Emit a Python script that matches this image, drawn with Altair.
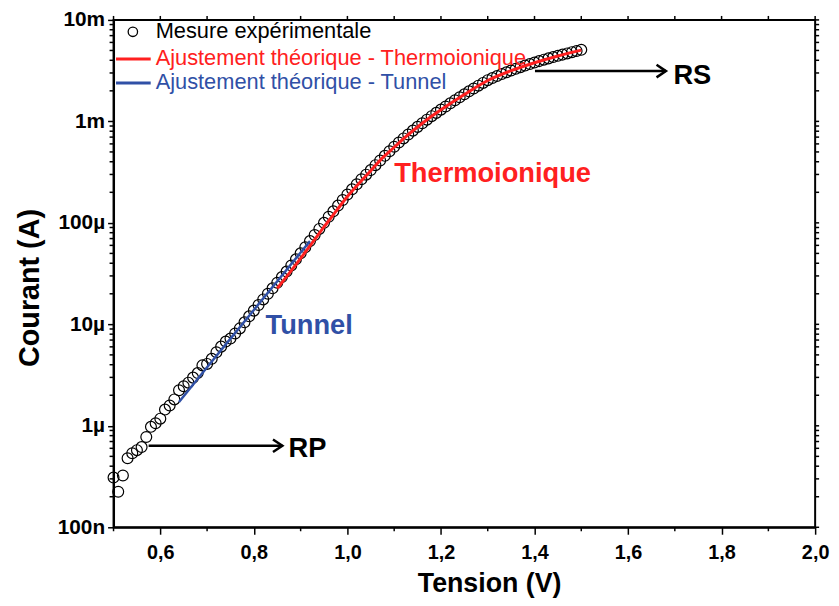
import altair as alt
import pandas as pd

# ---------------- data ----------------
tension = [0.50, 0.51, 0.52, 0.53, 0.54, 0.55, 0.56, 0.57, 0.58, 0.59,
           0.60, 0.61, 0.62, 0.63, 0.64, 0.65, 0.66, 0.67, 0.68, 0.69,
           0.70, 0.71, 0.72, 0.73, 0.74, 0.75, 0.76, 0.77, 0.78, 0.79,
           0.80, 0.81, 0.82, 0.83, 0.84, 0.85, 0.86, 0.87, 0.88, 0.89,
           0.90, 0.91, 0.92, 0.93, 0.94, 0.95, 0.96, 0.97, 0.98, 0.99,
           1.00, 1.01, 1.02, 1.03, 1.04, 1.05, 1.06, 1.07, 1.08, 1.09,
           1.10, 1.11, 1.12, 1.13, 1.14, 1.15, 1.16, 1.17, 1.18, 1.19,
           1.20, 1.21, 1.22, 1.23, 1.24, 1.25, 1.26, 1.27, 1.28, 1.29,
           1.30, 1.31, 1.32, 1.33, 1.34, 1.35, 1.36, 1.37, 1.38, 1.39,
           1.40, 1.41, 1.42, 1.43, 1.44, 1.45, 1.46, 1.47, 1.48, 1.49,
           1.50]
courant = [3.09e-7, 2.24e-7, 3.24e-7, 4.79e-7, 5.37e-7, 5.75e-7, 6.17e-7, 7.76e-7, 9.77e-7, 1.06e-6,
           1.175e-6, 1.445e-6, 1.585e-6, 1.82e-6, 2.24e-6, 2.455e-6, 2.66e-6, 2.985e-6, 3.31e-6, 3.94e-6,
           4.07e-6, 4.57e-6, 5.31e-6, 6.03e-6, 6.76e-6, 7.24e-6, 8.13e-6, 9.12e-6, 1.047e-5, 1.20e-5,
           1.365e-5, 1.55e-5, 1.76e-5, 2.00e-5, 2.265e-5, 2.57e-5, 2.92e-5, 3.31e-5, 3.80e-5, 4.37e-5,
           5.01e-5, 5.75e-5, 6.61e-5, 7.59e-5, 8.71e-5, 1.00e-4, 1.148e-4, 1.30e-4, 1.48e-4, 1.68e-4,
           1.905e-4, 2.14e-4, 2.40e-4, 2.69e-4, 2.985e-4, 3.31e-4, 3.70e-4, 4.12e-4, 4.58e-4, 5.08e-4,
           5.62e-4, 6.19e-4, 6.79e-4, 7.43e-4, 8.11e-4, 8.83e-4, 9.59e-4, 1.040e-3, 1.125e-3, 1.213e-3,
           1.306e-3, 1.403e-3, 1.507e-3, 1.614e-3, 1.730e-3, 1.849e-3, 1.977e-3, 2.109e-3, 2.249e-3, 2.393e-3,
           2.547e-3, 2.673e-3, 2.799e-3, 2.924e-3, 3.048e-3, 3.170e-3, 3.296e-3, 3.420e-3, 3.548e-3, 3.673e-3,
           3.802e-3, 3.926e-3, 4.055e-3, 4.178e-3, 4.305e-3, 4.426e-3, 4.550e-3, 4.677e-3, 4.808e-3, 4.943e-3,
           5.07e-3]

thermo_v = [0.85, 0.875, 0.90, 0.925, 0.95, 0.975, 1.00, 1.025, 1.05, 1.075, 1.10, 1.125,
            1.15, 1.175, 1.20, 1.25, 1.30, 1.35, 1.40, 1.45, 1.50]
thermo_i = [2.26e-5, 3.16e-5, 4.47e-5, 6.38e-5, 9.12e-5, 1.288e-4, 1.82e-4, 2.455e-4, 3.27e-4,
            4.37e-4, 5.56e-4, 7.08e-4, 8.81e-4, 1.081e-3, 1.30e-3, 1.84e-3, 2.53e-3, 3.16e-3,
            3.78e-3, 4.41e-3, 5.04e-3]

tunnel_v = [0.64, 0.70, 0.75, 0.80, 0.85, 0.90, 0.92]
tunnel_i = [1.72e-6, 3.77e-6, 7.23e-6, 1.387e-5, 2.66e-5, 5.10e-5, 6.61e-5]

# annotations (text, V, I, colour)
annot_text = ["Thermoionique", "Tunnel", "RP", "RS"]
annot_v = [1.100, 0.825, 0.874, 1.697]
annot_i = [3.02e-4, 9.66e-6, 5.94e-7, 2.79e-3]
annot_col = ["#FF2020", "#3050A6", "black", "black"]

# arrows (start V, end V, I)
arrow_v1 = [0.575, 1.401]
arrow_v2 = [0.861, 1.681]
arrow_i = [6.37e-7, 3.13e-3]

legend_labels = ["Mesure expérimentale",
                 "Ajustement théorique - Thermoionique",
                 "Ajustement théorique - Tunnel"]

x_major = [0.6, 0.8, 1.0, 1.2, 1.4, 1.6, 1.8, 2.0]
x_minor = [0.5, 0.7, 0.9, 1.1, 1.3, 1.5, 1.7, 1.9]
y_major = [1e-7, 1e-6, 1e-5, 1e-4, 1e-3, 1e-2]
y_minor = [m * 10.0 ** e for e in range(-7, -2) for m in range(2, 10)]

RED = "#FF2020"
BLUE = "#3050A6"
FONT = "Liberation Sans"
W, H = 708, 512

df = pd.DataFrame({"V": tension, "I": courant})
df_th = pd.DataFrame({"V": thermo_v, "I": thermo_i})
df_tu = pd.DataFrame({"V": tunnel_v, "I": tunnel_i})
df_an = pd.DataFrame({"t": annot_text, "V": annot_v, "I": annot_i, "c": annot_col})
df_ar = pd.DataFrame({"V": arrow_v1, "V2": arrow_v2, "I": arrow_i})
df_one = pd.DataFrame({"k": [0]})
df_xall = pd.DataFrame({"V": x_major + x_minor})
df_xmin = pd.DataFrame({"V": x_minor})
df_ymin = pd.DataFrame({"I": y_minor})
df_yall = pd.DataFrame({"I": y_major + y_minor})

xs = alt.Scale(domain=[0.5, 2.0], nice=False, zero=False)
ys = alt.Scale(type="log", domain=[1e-7, 1e-2], nice=False)

x_axis = alt.Axis(
    values=x_major, format=".1f",
    labelExpr="replace(datum.label, '.', ',')",
    tickSize=7,
    title="Tension (V)", titleFontSize=27, titleFontWeight="bold", titleFont=FONT,
    titleX=379, titleY=57, titleBaseline="middle",
    labelFontSize=20, labelFontWeight="bold", labelFont=FONT, labelPadding=8,
    labelColor="black", titleColor="black",
    domainColor="black", domainWidth=2, tickColor="black", tickWidth=1.5,
    grid=False, labelFlush=False, labelOverlap=False,
)
y_axis = alt.Axis(
    values=y_major, format="~s",
    tickSize=6,
    title="Courant (A)", titleFontSize=29, titleFontWeight="bold", titleFont=FONT,
    titleX=-85, titleY=270, titleBaseline="middle", titleAngle=-90,
    labelFontSize=21, labelFontWeight="bold", labelFont=FONT, labelPadding=3,
    labelColor="black", titleColor="black",
    domainColor="black", domainWidth=2, tickColor="black", tickWidth=1.5,
    grid=False, labelFlush=False, labelOverlap=False,
)

X = lambda f="V": alt.X(f + ":Q", scale=xs, axis=x_axis)
Y = lambda f="I": alt.Y(f + ":Q", scale=ys, axis=y_axis)

points = alt.Chart(df).mark_point(
    shape="circle", filled=False, size=120, color="black", strokeWidth=1.2, opacity=1
).encode(x=X(), y=Y())

thermo = alt.Chart(df_th).mark_line(color=RED, strokeWidth=3, interpolate="monotone").encode(
    x=X(), y=Y())
tunnel = alt.Chart(df_tu).mark_line(color=BLUE, strokeWidth=2.5).encode(x=X(), y=Y())

annots = alt.Chart(df_an).mark_text(
    align="left", baseline="middle", fontSize=27.5, fontWeight="bold", font=FONT
).encode(x=X(), y=Y(), text="t:N", color=alt.Color("c:N", scale=None))

arrow_lines = alt.Chart(df_ar).mark_rule(color="black", strokeWidth=2.5).encode(
    x=X(), x2="V2:Q", y=Y())
arrow_heads = alt.Chart(df_ar).mark_point(
    shape="M-1.5,-1L0,0L-1.5,1", filled=False, size=160, color="black",
    strokeWidth=2.5, opacity=1
).encode(x=X("V2"), y=Y())

# minor ticks and mirrored frame ticks
bottom_minor = alt.Chart(df_xmin).mark_rule(color="black", strokeWidth=1.5).encode(
    x=X(), y=alt.value(H), y2=alt.value(H + 4))
top_ticks = alt.Chart(df_xall).mark_rule(color="black", strokeWidth=1.5).encode(
    x=X(), y=alt.value(0), y2=alt.value(-4))
left_minor = alt.Chart(df_ymin).mark_rule(color="black", strokeWidth=1.5).encode(
    y=Y(), x=alt.value(0), x2=alt.value(-4))
right_ticks = alt.Chart(df_yall).mark_rule(color="black", strokeWidth=1.5).encode(
    y=Y(), x=alt.value(W), x2=alt.value(W + 4))

# legend (drawn inside the plot, top-left)
leg_circle = alt.Chart(df_one).mark_point(
    shape="circle", filled=False, size=90, color="black", strokeWidth=1.3, opacity=1
).encode(x=alt.value(19.5), y=alt.value(12))
leg_red = alt.Chart(df_one).mark_rule(color=RED, strokeWidth=3).encode(
    x=alt.value(2.5), x2=alt.value(37.5), y=alt.value(39.5))
leg_blue = alt.Chart(df_one).mark_rule(color=BLUE, strokeWidth=3).encode(
    x=alt.value(2.5), x2=alt.value(37.5), y=alt.value(63.7))
leg_t1 = alt.Chart(df_one).mark_text(align="left", baseline="alphabetic", fontSize=22,
                                     font=FONT, color="black", text=legend_labels[0]).encode(
    x=alt.value(42.5), y=alt.value(18.7))
leg_t2 = alt.Chart(df_one).mark_text(align="left", baseline="alphabetic", fontSize=22,
                                     font=FONT, color=RED, text=legend_labels[1]).encode(
    x=alt.value(42.5), y=alt.value(45.4))
leg_t3 = alt.Chart(df_one).mark_text(align="left", baseline="alphabetic", fontSize=22,
                                     font=FONT, color=BLUE, text=legend_labels[2]).encode(
    x=alt.value(42.5), y=alt.value(70))

chart = alt.layer(
    points, thermo, tunnel, annots, arrow_lines, arrow_heads,
    bottom_minor, top_ticks, left_minor, right_ticks,
    leg_circle, leg_red, leg_blue, leg_t1, leg_t2, leg_t3,
).properties(
    width=W, height=H,
    autosize=alt.AutoSizeParams(type="none"),
    padding={"left": 106.5, "top": 9.3, "right": 16, "bottom": 76},
    background="white",
).configure_view(stroke="black", strokeWidth=2)

chart.save("out.html", embed_options={"renderer": "svg", "actions": False})
